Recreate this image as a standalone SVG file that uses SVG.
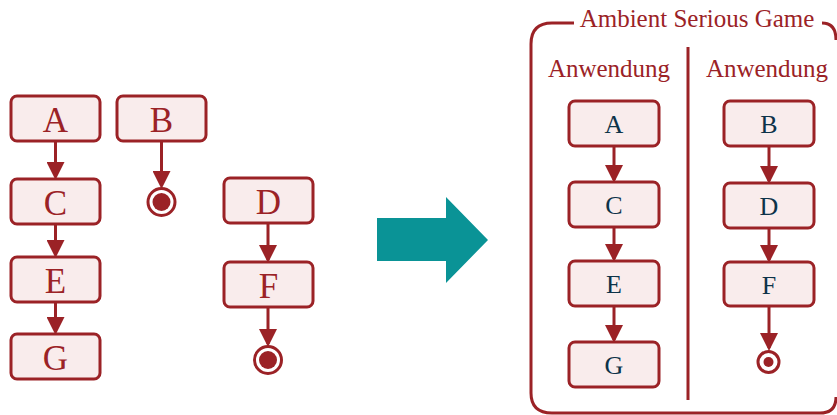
<svg xmlns="http://www.w3.org/2000/svg" width="837" height="415" viewBox="0 0 837 415">
<style>
.box{fill:#f9ecec;stroke:#9b2226;stroke-width:3}
.lt{font-family:"Liberation Serif",serif;font-size:35px;fill:#9b2226;text-anchor:middle}
.rt{font-family:"Liberation Serif",serif;font-size:26px;fill:#0d3349;text-anchor:middle}
.hd{font-family:"Liberation Serif",serif;font-size:25px;fill:#9b2226;text-anchor:middle}
.ln{stroke:#9b2226;stroke-width:3;fill:none}
</style>
<defs>
<marker id="ah" markerWidth="6" markerHeight="6" refX="5" refY="3" orient="auto" markerUnits="strokeWidth">
<path d="M0,0 L6,3 L0,6 z" fill="#9b2226"/>
</marker>
</defs>
<g id="connectors">
<line class="ln" x1="55.5" y1="141" x2="55.5" y2="177" marker-end="url(#ah)"/>
<line class="ln" x1="55.5" y1="224" x2="55.5" y2="255" marker-end="url(#ah)"/>
<line class="ln" x1="55.5" y1="302" x2="55.5" y2="332" marker-end="url(#ah)"/>
<line class="ln" x1="161.5" y1="141" x2="161.5" y2="186" marker-end="url(#ah)"/>
<line class="ln" x1="268" y1="223" x2="268" y2="260" marker-end="url(#ah)"/>
<line class="ln" x1="268" y1="307" x2="268" y2="344" marker-end="url(#ah)"/>
<line class="ln" x1="614" y1="146" x2="614" y2="180" marker-end="url(#ah)"/>
<line class="ln" x1="614" y1="227" x2="614" y2="259" marker-end="url(#ah)"/>
<line class="ln" x1="614" y1="306" x2="614" y2="340" marker-end="url(#ah)"/>
<line class="ln" x1="769" y1="146" x2="769" y2="181" marker-end="url(#ah)"/>
<line class="ln" x1="769" y1="228" x2="769" y2="260" marker-end="url(#ah)"/>
<line class="ln" x1="769" y1="306" x2="769" y2="348" marker-end="url(#ah)"/>
</g>
<g id="A"><rect class="box" x="11" y="96" width="89" height="45" rx="6"/><text class="lt" x="55.5" y="132">A</text></g>
<g id="B"><rect class="box" x="117" y="96" width="89" height="45" rx="6"/><text class="lt" x="161.5" y="132">B</text></g>
<g id="C"><rect class="box" x="11" y="179" width="89" height="45" rx="6"/><text class="lt" x="55.5" y="215">C</text></g>
<g id="E"><rect class="box" x="11" y="257" width="89" height="45" rx="6"/><text class="lt" x="55.5" y="293">E</text></g>
<g id="G"><rect class="box" x="11" y="334" width="89" height="45" rx="6"/><text class="lt" x="55.5" y="370">G</text></g>
<g id="endB"><circle cx="161.5" cy="202" r="13.5" fill="#fff" stroke="#9b2226" stroke-width="3"/><circle cx="161.5" cy="202" r="9" fill="#9b2226"/></g>
<g id="D"><rect class="box" x="224" y="178" width="89" height="45" rx="6"/><text class="lt" x="268.5" y="214">D</text></g>
<g id="F"><rect class="box" x="224" y="262" width="89" height="45" rx="6"/><text class="lt" x="268.5" y="298">F</text></g>
<g id="endF"><circle cx="268" cy="360" r="13.5" fill="#fff" stroke="#9b2226" stroke-width="3"/><circle cx="268" cy="360" r="9" fill="#9b2226"/></g>
<g id="bigArrow"><polygon points="377,218 446,218 446,197 488,240 446,283 446,261 377,261" fill="#0a9396"/></g>
<g id="container">
<path class="ln" d="M574,23 L552,23 Q531,23 531,44 L531,393 Q531,413 552,413 L820,413 Q836,413 836,397" />
<path class="ln" d="M822,23 Q836,23 836,40"/>
<text class="hd" x="697" y="27">Ambient Serious Game</text>
<line class="ln" x1="688" y1="47" x2="688" y2="400"/>
<text class="hd" x="609" y="77">Anwendung</text>
<text class="hd" x="767" y="77">Anwendung</text>
</g>
<g id="A2"><rect class="box" x="569" y="101" width="90" height="45" rx="6"/><text class="rt" x="614" y="133">A</text></g>
<g id="C2"><rect class="box" x="569" y="182" width="90" height="45" rx="6"/><text class="rt" x="614" y="214">C</text></g>
<g id="E2"><rect class="box" x="569" y="261" width="90" height="45" rx="6"/><text class="rt" x="614" y="293">E</text></g>
<g id="G2"><rect class="box" x="569" y="342" width="90" height="45" rx="6"/><text class="rt" x="614" y="374">G</text></g>
<g id="B2"><rect class="box" x="724" y="101" width="90" height="45" rx="6"/><text class="rt" x="769" y="133">B</text></g>
<g id="D2"><rect class="box" x="724" y="183" width="90" height="45" rx="6"/><text class="rt" x="769" y="215">D</text></g>
<g id="F2"><rect class="box" x="724" y="262" width="90" height="44" rx="6"/><text class="rt" x="769" y="294">F</text></g>
<g id="endF2"><circle cx="768.5" cy="362" r="10.5" fill="#fff" stroke="#9b2226" stroke-width="3"/><circle cx="768.5" cy="362" r="5" fill="#9b2226"/></g>
</svg>
